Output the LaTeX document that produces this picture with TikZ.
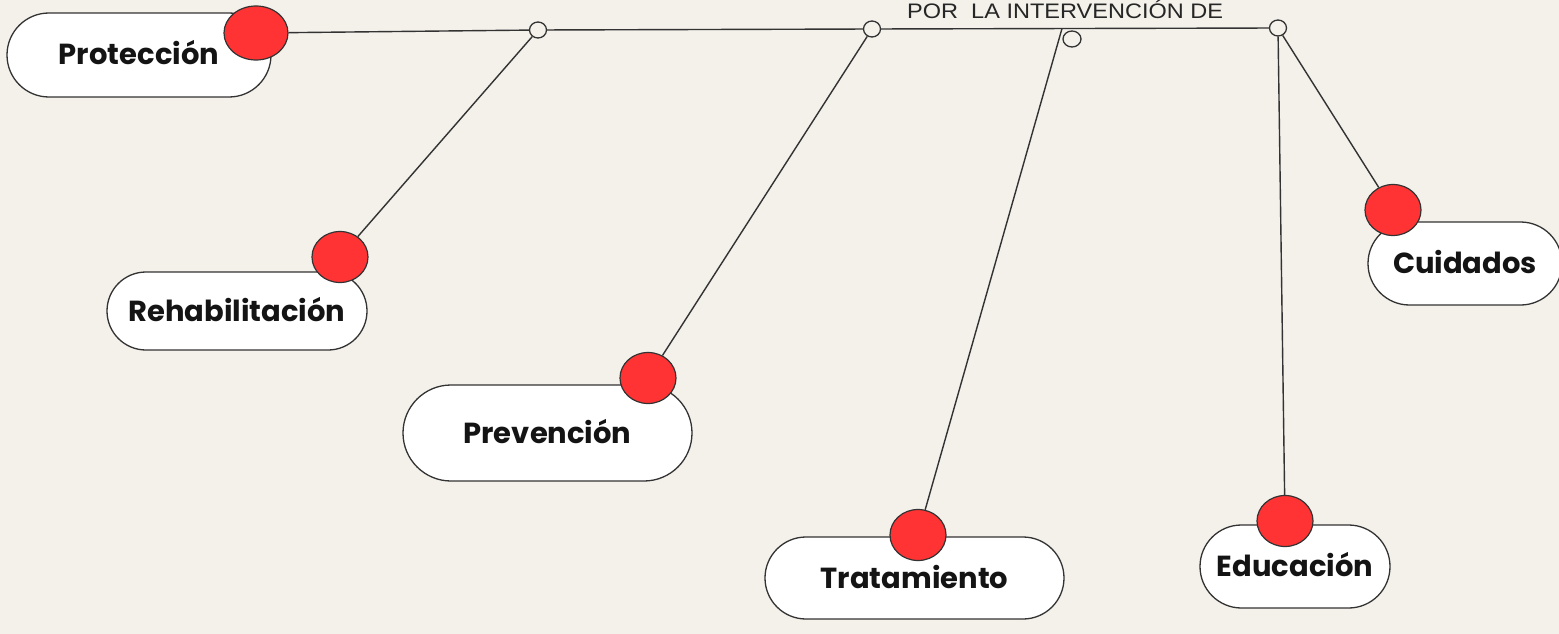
\documentclass[tikz,border=0pt]{standalone}
\usepackage{fontspec}
\setmainfont{Poppins}
\newfontfamily\topfont{Liberation Sans}[FakeStretch=1.12]
\usetikzlibrary{shapes.misc,shapes.geometric}
\definecolor{bg}{HTML}{F4F0EA}
\definecolor{dotred}{HTML}{FF3333}
\definecolor{ln}{HTML}{333333}
\begin{document}
\begin{tikzpicture}[x=1pt,y=-1pt,
 pill/.style={rounded rectangle, draw=ln, line width=1.3pt, fill=white,
   font=\fontsize{29}{31}\selectfont\bfseries, text=black!92,
   text height=20pt, text depth=0pt, inner sep=0pt},
 reddot/.style={ellipse, draw=ln, line width=1.2pt, fill=dotred,
   minimum width=56pt, minimum height=51pt, inner sep=0pt},
 hub/.style={ellipse, draw=ln, line width=1.3pt, fill=bg,
   minimum width=17pt, minimum height=16pt, inner sep=0pt},
 conn/.style={draw=ln, line width=1.4pt}]
\useasboundingbox (0,0) rectangle (1559,634);
\fill[bg] (0,0) rectangle (1559,634);
\clip (0,0) rectangle (1559,634);
% pills
\node[pill, minimum width=264pt, minimum height=84pt] (prot) at (139,55) {Protección};
\node[pill, minimum width=260pt, minimum height=78pt] (rehab) at (237,311) {Rehabilitación};
\node[pill, minimum width=289pt, minimum height=96pt] (prev) at (547.5,433) {Prevención};
\node[pill, minimum width=299pt, minimum height=82pt] (trat) at (914.5,578) {Tratamiento};
\node[pill, minimum width=190pt, minimum height=83pt] (educ) at (1295,566.5) {Educación};
\node[pill, minimum width=194pt, minimum height=83pt] (cuid) at (1465,263.5) {Cuidados};
% hubs
\node[hub] (c1) at (538,30) {};
\node[hub] (c2) at (872,29) {};
\node[hub, minimum width=18pt] (c3) at (1072,39) {};
\node[hub] (c4) at (1278,28) {};
\coordinate (t0) at (1062,28.5);
% red dots
\node[reddot, minimum width=64pt, minimum height=54pt] (protdot) at (256,33) {};
\node[reddot] (rehabdot) at (340,257) {};
\node[reddot] (prevdot) at (648,378) {};
\node[reddot] (tratdot) at (918,535) {};
\node[reddot] (educdot) at (1285,521) {};
\node[reddot] (cuiddot) at (1393,210) {};
% connectors
\draw[conn] (protdot) -- (c1) -- (c2) -- (c4);
\draw[conn] (c1) -- (rehabdot);
\draw[conn] (c2) -- (prevdot);
\draw[conn] (t0) -- (tratdot);
\draw[conn] (c4) -- (educdot);
\draw[conn] (c4) -- (cuiddot);
% title
\node[anchor=base west, inner sep=0pt, text=black!85, font=\topfont\fontsize{21}{23}\selectfont] (title) at (907,18.5) {POR\ \ LA INTERVENCIÓN DE};
\end{tikzpicture}
\end{document}
